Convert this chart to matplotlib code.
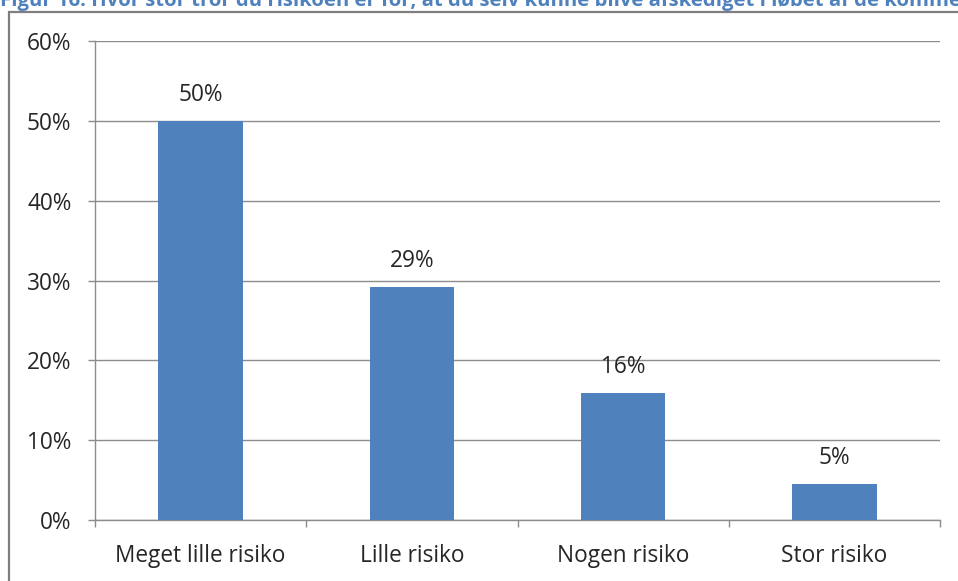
import matplotlib
matplotlib.use("Agg")
import matplotlib.pyplot as plt
from matplotlib.patches import Rectangle

# data
categories = ["Meget lille risiko", "Lille risiko", "Nogen risiko", "Stor risiko"]
shares = [50.0, 29.2, 15.9, 4.5]
share_labels = ["50%", "29%", "16%", "5%"]
yticks = [0, 10, 20, 30, 40, 50, 60]
title = ("Figur 16: Hvor stor tror du risikoen er for, at du selv kunne blive "
         "afskediget i løbet af de kommende måneder?")

plt.rcParams['font.family'] = ['Open Sans', 'DejaVu Sans']

W, H = 958, 581
fig = plt.figure(figsize=(W / 100, H / 100), dpi=100)
ax = fig.add_axes([95 / W, (H - 520) / H, 845 / W, 479 / H])

bar_col = '#4F81BD'
grid_col = '#8C8C8C'
txt_col = '#262626'
fs = 16.3

x = list(range(len(categories)))
ax.bar(x, shares, width=0.4, color=bar_col, zorder=3)

for xi, v, lab in zip(x, shares, share_labels):
    ax.text(xi, v + 2.5, lab, ha='center', va='baseline', fontsize=fs, color=txt_col)

ax.set_xlim(-0.5, len(categories) - 0.5)
ax.set_ylim(0, 60)
ax.set_yticks(yticks)
ax.set_yticklabels([f"{t}%" for t in yticks])
ax.yaxis.grid(True, color=grid_col, linewidth=1.0, zorder=0)

ax.set_xticks(x)
ax.set_xticklabels(categories)
ax.set_xticks([i - 0.5 for i in range(len(categories) + 1)], minor=True)
ax.tick_params(axis='x', which='major', length=0, pad=17, labelsize=fs, labelcolor=txt_col)
ax.tick_params(axis='x', which='minor', length=5, width=1, color=grid_col, direction='out')
ax.tick_params(axis='y', length=5, width=1, color=grid_col, pad=12, labelsize=fs, labelcolor=txt_col)

for s in ['top', 'right']:
    ax.spines[s].set_visible(False)
for s in ['left', 'bottom']:
    ax.spines[s].set_color(grid_col)
    ax.spines[s].set_linewidth(1.0)

# chart frame, runs off the picture on the right and bottom
fig.patches.append(Rectangle((9 / W, -0.1), 1.2, (H - 12) / H + 0.1,
                             transform=fig.transFigure, fill=False,
                             edgecolor='#7F7F7F', linewidth=1.6))

# caption above, mostly cut off by the picture edge (as in the reference)
fig.text(0.0, 1 - 6 / H, title, ha='left', va='baseline', fontsize=14.6,
         fontweight='bold', color='#4F81BD')

fig.savefig("out.png", dpi=100)
